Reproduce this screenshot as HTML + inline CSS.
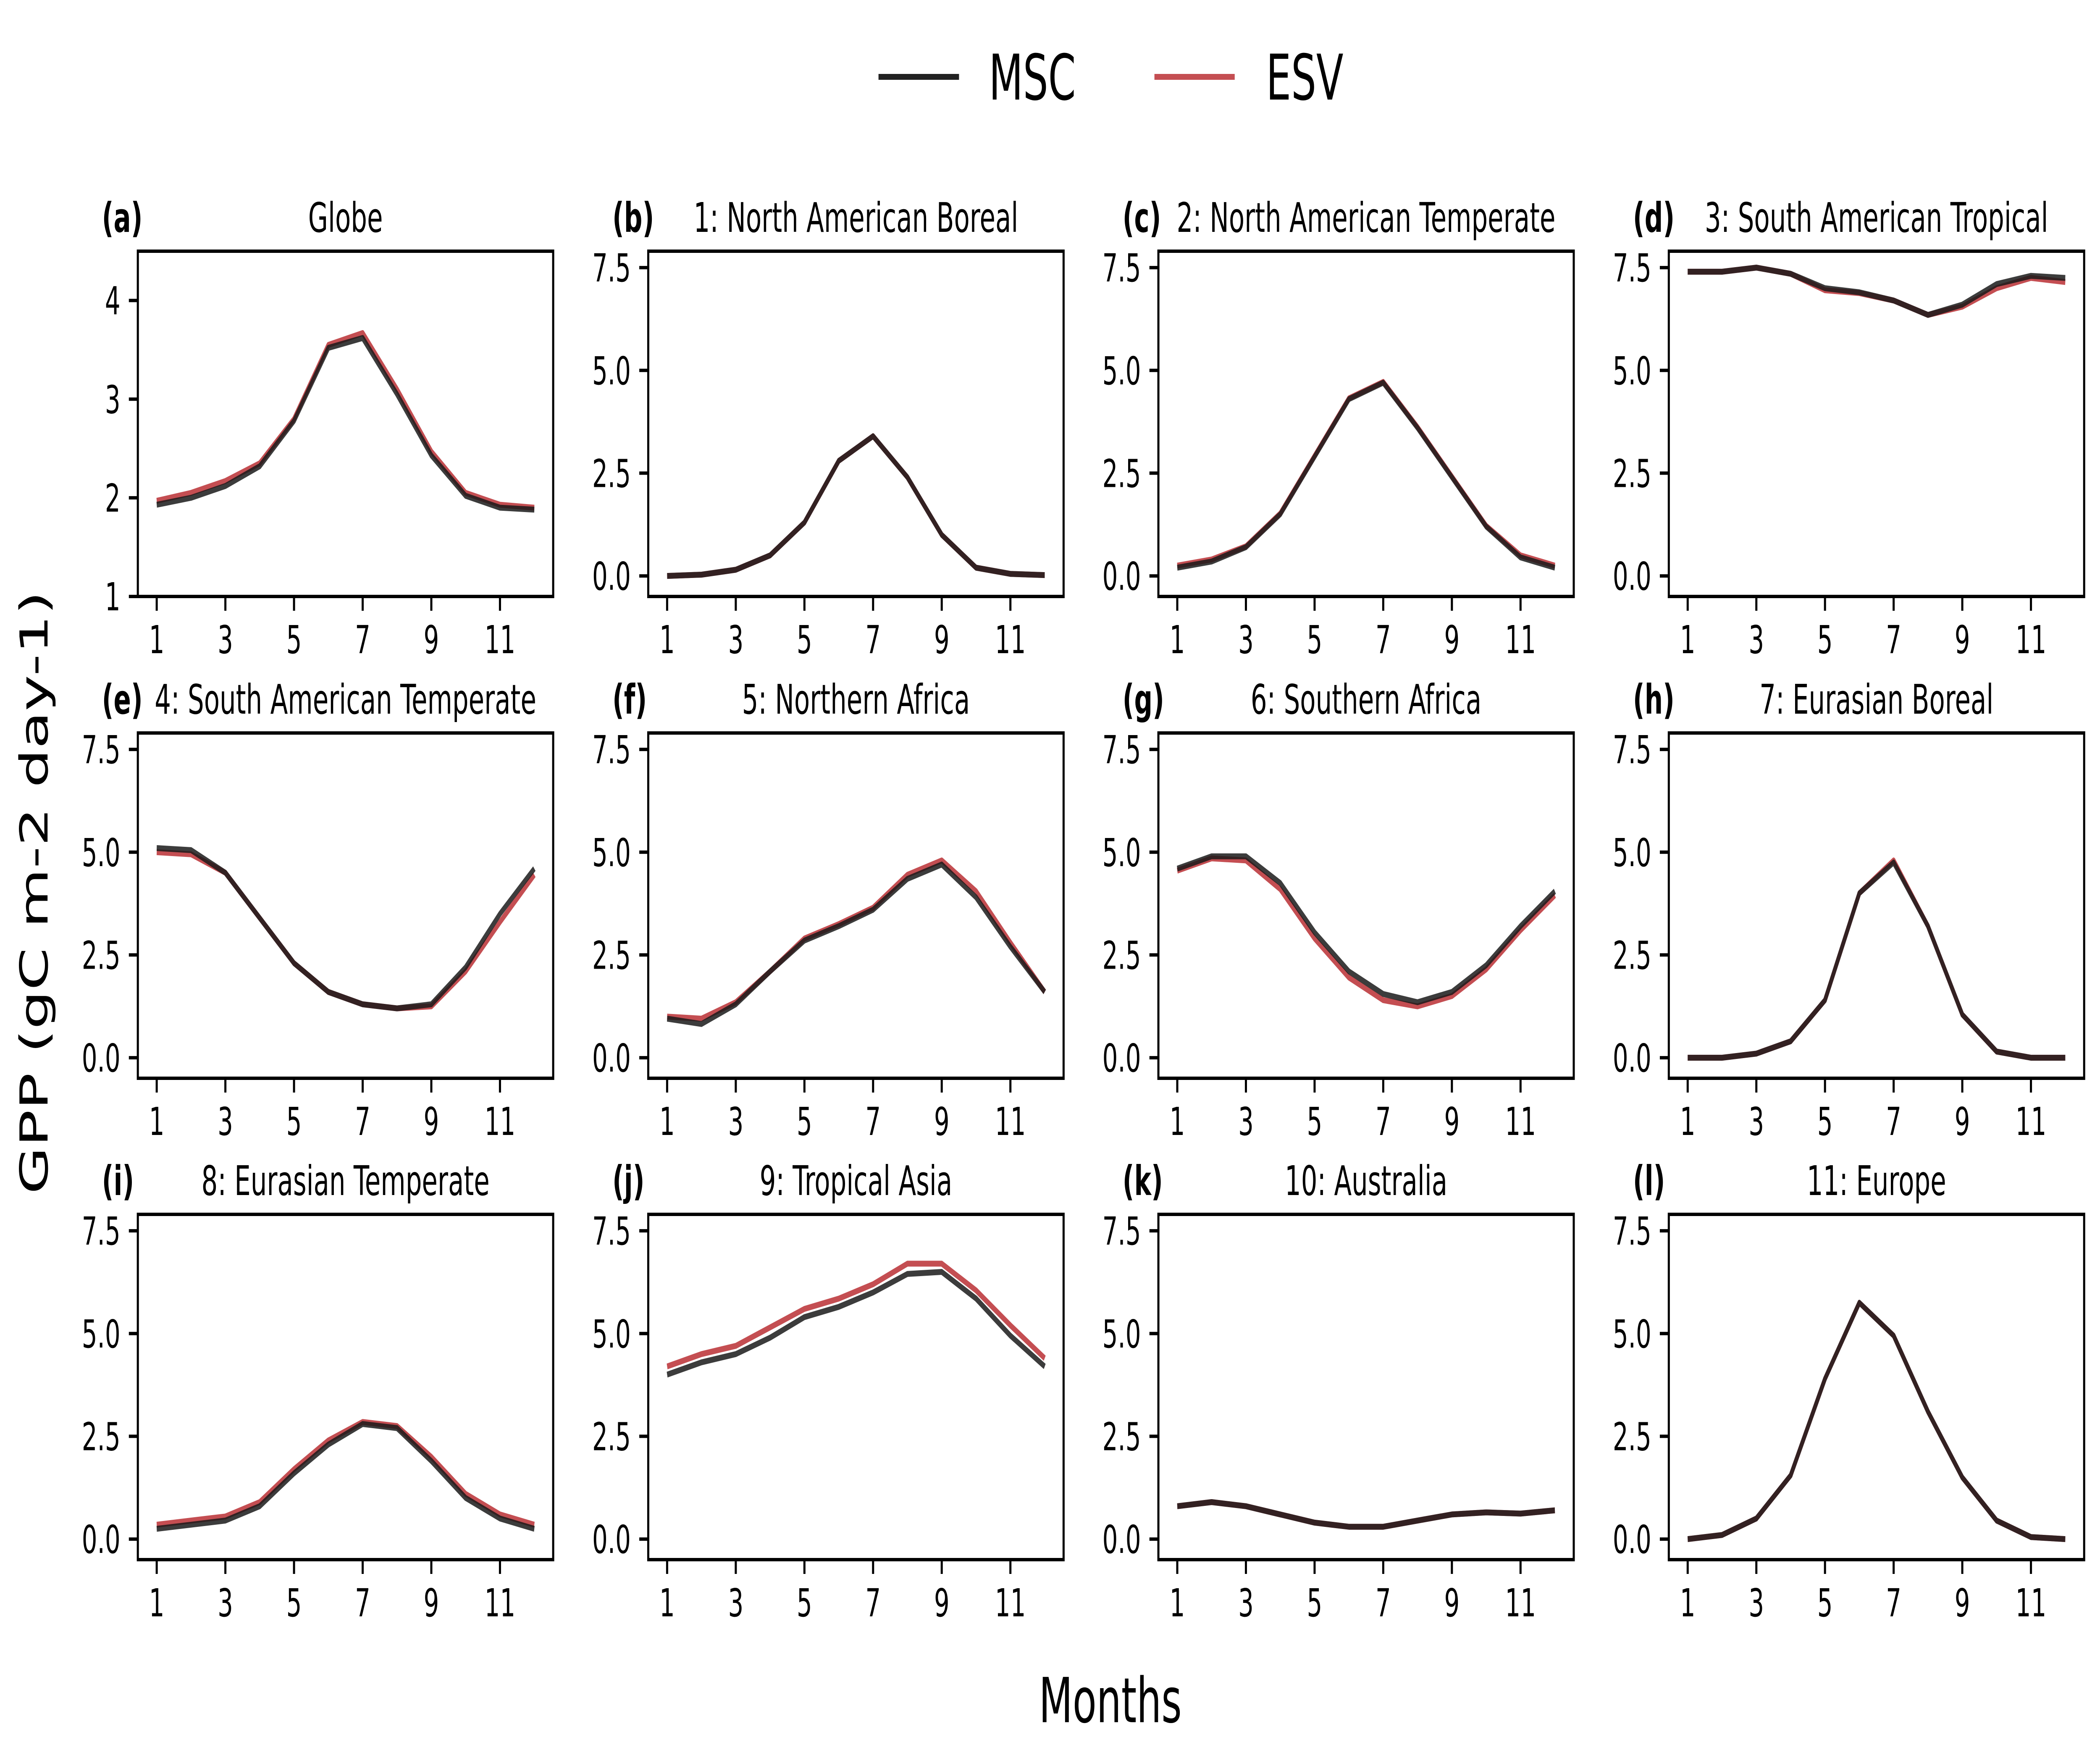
<!DOCTYPE html>
<html><head><meta charset="utf-8"><style>
html,body{margin:0;padding:0;background:#fff;width:100%;height:100%;overflow:hidden;}
svg{display:block;width:100vw;height:100vh;font-family:"DejaVu Sans","Liberation Sans",sans-serif;}
</style></head><body>
<svg id="fig" viewBox="0 0 7953 4190" preserveAspectRatio="none" xmlns="http://www.w3.org/2000/svg">
<rect width="7953" height="4190" fill="#fff"/>
<g>
 <line x1="3327" y1="183" x2="3632" y2="183" stroke="#222" stroke-width="14"/>
 <text x="3745" y="237" font-size="150">MSC</text>
 <line x1="4372" y1="183" x2="4676" y2="183" stroke="#c44e52" stroke-width="14"/>
 <text x="4795" y="237" font-size="150">ESV</text>
</g>
<text transform="translate(180,2125) rotate(-90)" text-anchor="middle" font-size="146">GPP (gC m-2 day-1)</text>
<text x="4205" y="4100" text-anchor="middle" font-size="148">Months</text>
</svg>
<script>
const months = [1,2,3,4,5,6,7,8,9,10,11,12];
const panelLabels = ["(a)","(b)","(c)","(d)","(e)","(f)","(g)","(h)","(i)","(j)","(k)","(l)"];
const panelTitles = ["Globe","1: North American Boreal","2: North American Temperate","3: South American Tropical","4: South American Temperate","5: Northern Africa","6: Southern Africa","7: Eurasian Boreal","8: Eurasian Temperate","9: Tropical Asia","10: Australia","11: Europe"];
const xTicks = [1,3,5,7,9,11];
const yTicksGlobe = [1,2,3,4];
const yTicksRegion = [0,2.5,5,7.5];
const yTickLabelsRegion = ["0.0","2.5","5.0","7.5"];
const msc = [
 [1.93,2.0,2.12,2.32,2.78,3.52,3.62,3.05,2.43,2.02,1.9,1.88],
 [0,0.03,0.15,0.5,1.3,2.8,3.4,2.4,1.0,0.2,0.05,0.02],
 [0.2,0.35,0.7,1.5,2.9,4.3,4.7,3.6,2.4,1.2,0.45,0.2],
 [7.4,7.4,7.5,7.35,7.0,6.9,6.7,6.35,6.6,7.1,7.3,7.25],
 [5.1,5.05,4.5,3.4,2.3,1.6,1.3,1.2,1.3,2.2,3.5,4.6],
 [0.95,0.82,1.3,2.1,2.85,3.2,3.6,4.35,4.7,3.9,2.7,1.6],
 [4.6,4.9,4.9,4.25,3.05,2.1,1.55,1.35,1.6,2.25,3.2,4.05],
 [0,0,0.1,0.4,1.4,4.0,4.75,3.2,1.05,0.15,0,0],
 [0.25,0.35,0.45,0.8,1.6,2.3,2.8,2.7,1.9,1.0,0.5,0.25],
 [4.0,4.3,4.5,4.9,5.4,5.65,6.0,6.45,6.5,5.85,4.95,4.2],
 [0.8,0.9,0.8,0.6,0.4,0.3,0.3,0.45,0.6,0.65,0.62,0.7],
 [0.0,0.1,0.5,1.55,3.9,5.75,4.95,3.1,1.5,0.45,0.05,0.0]
];
const esv = [
 [1.97,2.05,2.17,2.35,2.8,3.55,3.67,3.1,2.47,2.05,1.93,1.9],
 [0,0.03,0.15,0.5,1.3,2.8,3.4,2.4,1.0,0.2,0.05,0.02],
 [0.25,0.4,0.72,1.52,2.92,4.32,4.72,3.62,2.42,1.22,0.5,0.25],
 [7.4,7.4,7.5,7.35,6.95,6.88,6.7,6.35,6.55,7.0,7.25,7.15],
 [5.0,4.95,4.5,3.4,2.3,1.6,1.3,1.2,1.25,2.1,3.3,4.45],
 [1.0,0.95,1.35,2.1,2.9,3.25,3.65,4.45,4.8,4.05,2.8,1.6],
 [4.55,4.85,4.8,4.1,2.9,1.95,1.4,1.25,1.5,2.15,3.1,3.95],
 [0,0,0.1,0.4,1.4,4.0,4.8,3.2,1.05,0.15,0,0],
 [0.35,0.45,0.55,0.9,1.7,2.4,2.85,2.75,2.0,1.1,0.6,0.35],
 [4.2,4.5,4.7,5.15,5.6,5.85,6.2,6.7,6.7,6.05,5.2,4.4],
 [0.8,0.9,0.8,0.6,0.4,0.3,0.3,0.45,0.6,0.65,0.62,0.7],
 [0.0,0.1,0.5,1.55,3.9,5.75,4.95,3.1,1.5,0.45,0.05,0.0]
];

const NS="http://www.w3.org/2000/svg";
const svg=document.getElementById('fig');
const colX=[522,2455,4387,6320], rowY=[598,1745,2891], W=1573, H=822;
function mk(tag,attrs,parent){const e=document.createElementNS(NS,tag);for(const k in attrs)e.setAttribute(k,attrs[k]);parent.appendChild(e);return e;}
for(let p=0;p<12;p++){
  const x0=colX[p%4], y0=rowY[Math.floor(p/4)];
  const globe=p===0;
  const ymin=globe?1:-0.5, ymax=globe?4.5:7.9;
  const xs=m=>x0+(m-0.45)/(12.55-0.45)*W;
  const ys=v=>y0+H-(v-ymin)/(ymax-ymin)*H;
  const g=mk('g',{},svg);
  
  
  const lab=mk('text',{x:x0-136,y:y0-46,'font-size':97,'font-weight':'bold'},g);
  lab.textContent=panelLabels[p];
  
  
  const t=mk('text',{x:x0+W/2,y:y0-46,'font-size':97,'text-anchor':'middle'},g);
  t.textContent=panelTitles[p];
  
  
  xTicks.forEach(m=>{
    const tk=mk('line',{x1:xs(m),x2:xs(m),y1:y0+H,y2:y0+H+34,stroke:'#000','stroke-width':8},g);
    
    
    const tl=mk('text',{x:xs(m),y:y0+H+135,'font-size':92,'text-anchor':'middle'},g);
    tl.textContent=m;
    
    
  });
  const yt=globe?yTicksGlobe:yTicksRegion;
  yt.forEach((v,i)=>{
    const tk=mk('line',{x1:x0-34,x2:x0,y1:ys(v),y2:ys(v),stroke:'#000','stroke-width':8},g);
    
    
    const tl=mk('text',{x:x0-66,y:ys(v)+33,'font-size':92,'text-anchor':'end'},g);
    tl.textContent=globe?String(v):yTickLabelsRegion[i];
    
    
  });
  const pts=arr=>arr.map((v,i)=>xs(months[i]).toFixed(1)+','+ys(v).toFixed(1)).join(' ');
  const le=mk('polyline',{points:pts(esv[p]),fill:'none',stroke:'#c44e52','stroke-width':14,'stroke-linejoin':'round'},g);
  
  
  const lm=mk('polyline',{points:pts(msc[p]),fill:'none',stroke:'#1a1a1a','stroke-opacity':0.85,'stroke-width':14,'stroke-linejoin':'round'},g);
  
  
  const fr=mk('rect',{x:x0,y:y0,width:W,height:H,fill:'none',stroke:'#000','stroke-width':8},g);
  
  
}
</script>
</body></html>
